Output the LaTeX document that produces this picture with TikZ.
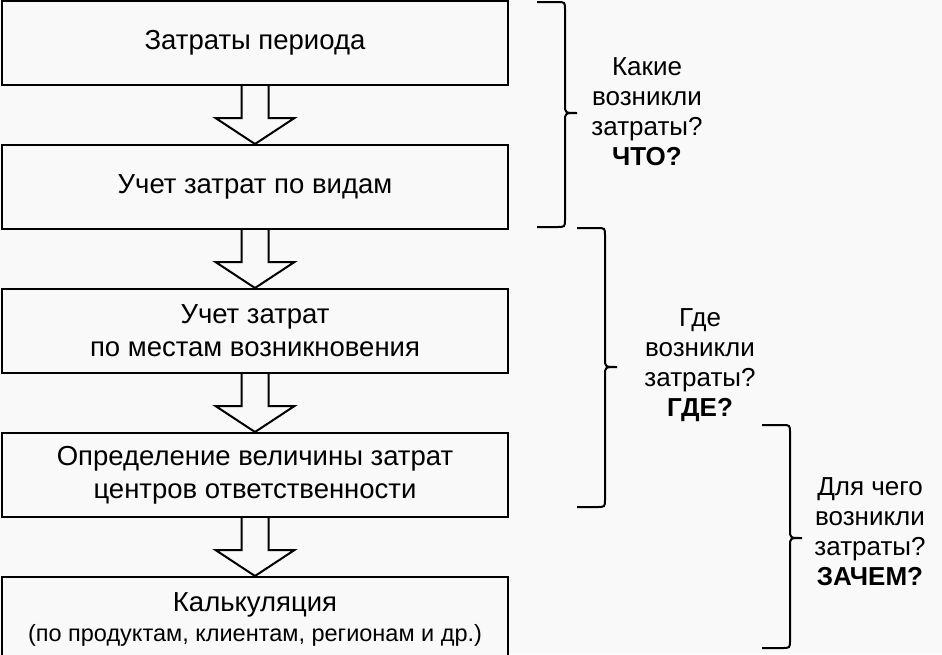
\documentclass[tikz,border=0pt]{standalone}
\usepackage{fontspec}
\setmainfont{Liberation Sans}
\usetikzlibrary{positioning, calc}
\definecolor{paper}{rgb}{0.975,0.975,0.975}
\tikzset{
x=1pt, y=-1pt, % picture units follow the image, y runs down
node distance=58pt, % gap between two stages
stage/.style={draw, line width=2pt, fill=paper, minimum width=506pt, minimum height=84pt, align=center, font=\fontsize{27.5}{33}\selectfont}, % the boxes on the left
question/.style={align=center, font=\fontsize{26}{30}\selectfont}, % the questions on the right
hollow/.style={line width=2pt, line join=miter}, % the big white arrows
curly/.style={line width=2pt}, % the side braces
}
% big hollow arrow from one stage down to the next
\newcommand{\hollowarrow}[2]{
\draw[hollow] ($(#1.south)+(-13.5,0)$) -- ($(#2.north)+(-13.5,-26)$) -- ($(#2.north)+(-39.5,-26)$) -- (#2.north) -- ($(#2.north)+(39.5,-26)$) -- ($(#2.north)+(13.5,-26)$) -- ($(#1.south)+(13.5,0)$);
}
% brace: x of the stem, top, bottom, y of the tip
\newcommand{\bracecurve}[4]{
\draw[curly] (#1-28,#2) -- (#1-8,#2) .. controls (#1,#2) .. (#1,#2+8) -- (#1,#4-8) .. controls (#1,#4) .. (#1+12,#4) .. controls (#1,#4) .. (#1,#4+8) -- (#1,#3-8) .. controls (#1,#3) .. (#1-8,#3) -- (#1-28,#3);
}

\begin{document}
\begin{tikzpicture}
    \useasboundingbox[fill=paper] (0,0) rectangle (942,654);
    \node[stage] (period) at (255,43) {Затраты периода};
    \node[stage, below=of period] (kinds) {Учет затрат по видам};
    \node[stage, below=of kinds] (places) {Учет затрат\\по местам возникновения};
    \node[stage, below=of places] (centres) {Определение величины затрат\\центров ответственности};
    \node[stage, below=of centres] (costing) {Калькуляция\\[-3pt]{\fontsize{23.5}{30}\selectfont (по продуктам, клиентам, регионам и др.)}};
    \hollowarrow{period}{kinds}
    \hollowarrow{kinds}{places}
    \hollowarrow{places}{centres}
    \hollowarrow{centres}{costing}
    \node[question] (what) at (647,112) {Какие\\возникли\\затраты?\\\textbf{ЧТО?}};
    \node[question] (where) at (700,365) {Где\\возникли\\затраты?\\\textbf{ГДЕ?}};
    \node[question] (why) at (870,532) {Для чего\\возникли\\затраты?\\\textbf{ЗАЧЕМ?}};
    \bracecurve{565}{2}{227}{113}
    \bracecurve{605}{228}{507}{367}
    \bracecurve{790}{425}{648}{538}
  \end{tikzpicture}
\end{document}
